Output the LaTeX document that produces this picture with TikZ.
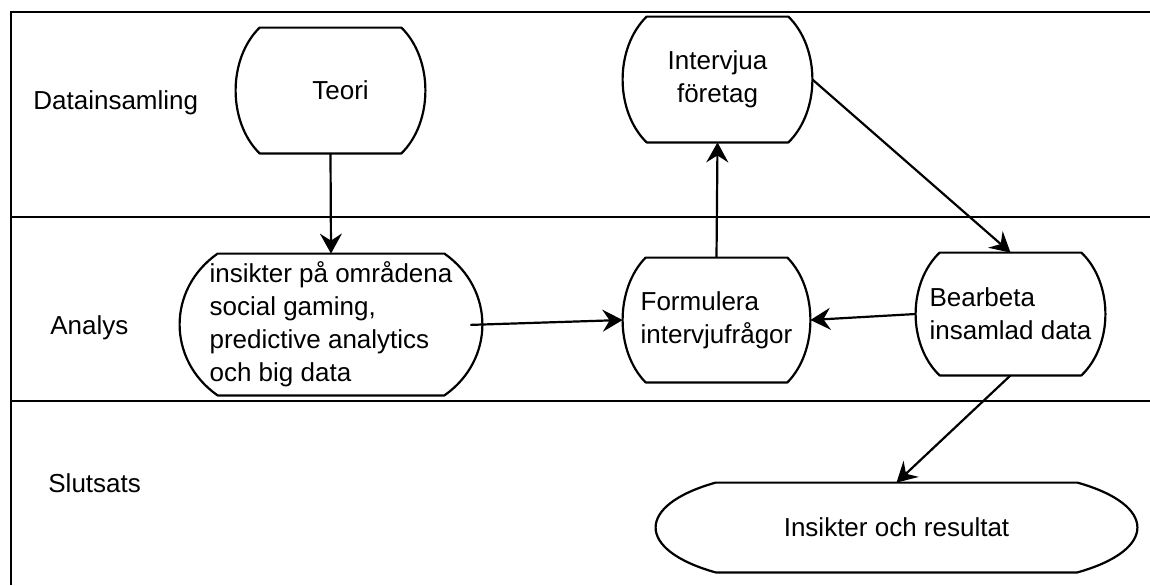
\documentclass[tikz,border=0pt]{standalone}
\usepackage{fontspec}
\setmainfont{Liberation Sans}
\usetikzlibrary{arrows.meta,calc}
\newcommand\termshape[2]{%
  \draw[shapeline] ($(#1.north west)+(#2,0)$) -- ($(#1.north east)+(-#2,0)$)
  .. controls ($(#1.north east)!0.25!(#1.south east)+(#2/3,0)$) and ($(#1.north east)!0.75!(#1.south east)+(#2/3,0)$) .. ($(#1.south east)+(-#2,0)$)
  -- ($(#1.south west)+(#2,0)$)
  .. controls ($(#1.north west)!0.75!(#1.south west)+(-#2/3,0)$) and ($(#1.north west)!0.25!(#1.south west)+(-#2/3,0)$) .. cycle;}
\begin{document}
\begin{tikzpicture}[x=0.5pt,y=-0.5pt,
  lane/.style={line width=1.3pt},
  shapeline/.style={line width=1.1pt, line join=round},
  box/.style={inner sep=0pt, font=\fontsize{13}{16.5}\selectfont, text=black},
  lbl/.style={anchor=west, inner sep=0pt, font=\fontsize{13}{16.5}\selectfont},
  conn/.style={line width=1.1pt, -{Stealth[length=10pt,width=11pt,inset=3.5pt]}}]
\useasboundingbox (0,0) rectangle (1150,585);
\draw[lane] (11,585) -- (11,12) -- (1150,12);
\draw[lane] (11,217) -- (1150,217);
\draw[lane] (11,401) -- (1150,401);

\node[lbl] (l1) at (33,103) {Datainsamling};
\node[lbl] (l2) at (50,328) {Analys};
\node[lbl] (l3) at (48,483) {Slutsats};

\node[box, minimum width=94.5pt, minimum height=62.5pt] (teori) at (330.5,90.5) {\hspace*{10pt}Teori};
\node[box, align=center, minimum width=94.5pt, minimum height=62.5pt] (intervju) at (717.5,79.5) {Intervjua\\företag};
\node[box, align=left, minimum width=151pt, minimum height=70.5pt] (insikt) at (331,324.5) {insikter på områdena\\social gaming,\\predictive analytics\\och big data};
\node[box, align=left, minimum width=93.5pt, minimum height=62pt] (form) at (716.5,320) {Formulera\\intervjufrågor};
\node[box, align=left, minimum width=94.5pt, minimum height=61pt] (bearb) at (1010.5,314) {Bearbeta\\insamlad data};
\node[box, minimum width=240.5pt, minimum height=44.5pt] (result) at (896.5,527.5) {Insikter och resultat};

\termshape{teori}{24}
\termshape{intervju}{24}
\termshape{insikt}{38}
\termshape{form}{23}
\termshape{bearb}{24}
\termshape{result}{60}

\draw[conn] (teori.south) -- (insikt.north);
\draw[conn, shorten <=-6pt] (insikt.east) -- (form.west);
\draw[conn] (bearb.west) -- (form.east);
\draw[conn] (form.north) -- (intervju.south);
\draw[conn] (intervju.east) -- (bearb.north);
\draw[conn] (bearb.south) -- (result.north);
\end{tikzpicture}
\end{document}
